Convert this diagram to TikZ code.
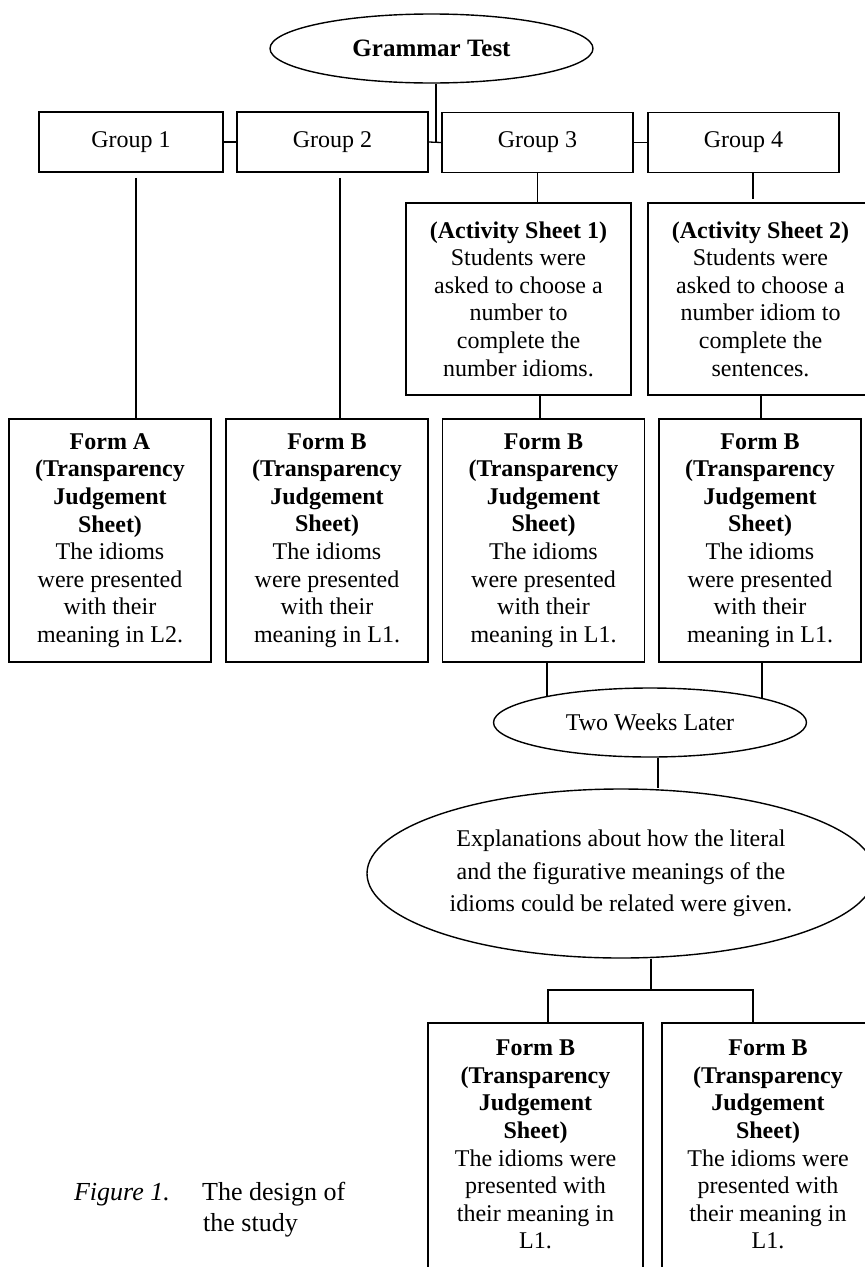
\documentclass[tikz,border=0pt]{standalone}
\usepackage{fontspec}
\setmainfont{Liberation Serif}
\usetikzlibrary{shapes.geometric}
\tikzset{
  boxline/.style={line width=1.6pt},
  conn/.style={line width=1.3pt},
  txt/.style={font=\fontsize{24}{27.6}\selectfont, align=center, inner sep=0pt},
  groupbox/.style={draw, boxline, txt, minimum height=60pt},
  sheetbox/.style={draw, boxline, txt, minimum width=225pt, minimum height=192pt},
  formbox/.style={draw, boxline, txt, minimum width=202pt, minimum height=243pt},
  openbox/.style={txt, minimum height=243pt},
  oval/.style={draw, ellipse, line width=1.4pt, inner sep=0pt, align=center},
  captxt/.style={font=\fontsize{26}{31}\selectfont, inner sep=0pt}
}
\begin{document}
\begin{tikzpicture}[x=1pt,y=-1pt]
\useasboundingbox (0,0) rectangle (865,1267);

% top
\node[oval, minimum width=323pt, minimum height=69pt, font=\fontsize{25}{30}\selectfont\bfseries] (gt) at (431.5,48.5) {Grammar Test};

\node[groupbox, minimum width=184pt] (g1) at (131,142) {Group 1};
\node[groupbox, minimum width=191pt] (g2) at (332.5,142) {Group 2};
\node[groupbox, minimum width=191pt] (g3) at (537.5,142.5) {Group 3};
\node[groupbox, minimum width=191pt] (g4) at (743.5,142.5) {Group 4};

\node[sheetbox] (a1) at (518.5,299) {\textbf{(Activity Sheet 1)}\\Students were\\asked to choose a\\number to\\complete the\\number idioms.};
\node[sheetbox] (a2) at (760.5,299) {\textbf{(Activity Sheet 2)}\\Students were\\asked to choose a\\number idiom to\\complete the\\sentences.};

\node[formbox] (fa) at (110,540.5) {\textbf{Form A}\\\textbf{(Transparency}\\\textbf{Judgement}\\\textbf{Sheet)}\\The idioms\\were presented\\with their\\meaning in L2.};
\node[formbox] (fb1) at (327,540.5) {\textbf{Form B}\\\textbf{(Transparency}\\\textbf{Judgement}\\\textbf{Sheet)}\\The idioms\\were presented\\with their\\meaning in L1.};
\node[formbox] (fb2) at (543.5,540.5) {\textbf{Form B}\\\textbf{(Transparency}\\\textbf{Judgement}\\\textbf{Sheet)}\\The idioms\\were presented\\with their\\meaning in L1.};
\node[formbox] (fb3) at (760,540.5) {\textbf{Form B}\\\textbf{(Transparency}\\\textbf{Judgement}\\\textbf{Sheet)}\\The idioms\\were presented\\with their\\meaning in L1.};

\node[oval, minimum width=313pt, minimum height=69pt, font=\fontsize{24}{28}\selectfont] (tw) at (650,722.5) {Two Weeks Later};

\node[oval, minimum width=508pt, minimum height=169pt, font=\fontsize{24}{32.5}\selectfont] (big) at (621,873.5) {Explanations about how the literal\\and the figurative meanings of the\\idioms could be related were given.};

\node[openbox, minimum width=215pt] (bb1) at (535.5,1144.5) {\textbf{Form B}\\\textbf{(Transparency}\\\textbf{Judgement}\\\textbf{Sheet)}\\The idioms were\\presented with\\their meaning in\\L1.};
\node[openbox, minimum width=212pt] (bb2) at (768,1144.5) {\textbf{Form B}\\\textbf{(Transparency}\\\textbf{Judgement}\\\textbf{Sheet)}\\The idioms were\\presented with\\their meaning in\\L1.};
\draw[boxline] ([yshift=-30pt]bb1.south west) -- (bb1.north west) -- (bb1.north east) -- ([yshift=-30pt]bb1.south east);
\draw[boxline] ([yshift=-30pt]bb2.south west) -- (bb2.north west) -- (bb2.north east) -- ([yshift=-30pt]bb2.south east);

% caption
\node[captxt, anchor=base east, font=\fontsize{26}{31}\selectfont\itshape] (fig) at (170,1200) {Figure 1.};
\node[captxt, anchor=base west] (cap1) at (202,1200) {The design of};
\node[captxt, anchor=base west] (cap2) at (203,1231) {the study};

% connectors
\coordinate (jt) at (436,142);
\draw[conn] (gt.south -| jt) -- (jt);
\draw[conn] (g1.east) -- (g2.west);
\draw[conn] (g2.east) -- (g3.west);
\draw[conn] (g3.east) -- (g4.west);

\draw[conn, shorten <=5pt] (g1.south -| 136,0) -- (fa.north -| 136,0);
\draw[conn, shorten <=5pt] (g2.south -| 340,0) -- (fb1.north -| 340,0);
\draw[conn] (g3.south) -- (g3.south |- a1.north);
\draw[conn, shorten >=3pt] (g4.south -| 753,0) -- (a2.north -| 753,0);

\draw[conn] (a1.south -| 540,0) -- (fb2.north -| 540,0);
\draw[conn] (a2.south -| 761,0) -- (fb3.north -| 761,0);

\coordinate (t1) at (547,696.5);
\coordinate (t2) at (762,698);
\draw[conn] (fb2.south -| t1) -- (t1);
\draw[conn] (fb3.south -| t2) -- (t2);
\draw[conn] (tw.south -| 658,0) -- (big.north -| 658,0);

\coordinate (jb) at (651,990);
\draw[conn] (big.south -| jb) -- (jb);
\draw[conn] (bb1.north -| 548,0) |- (jb) -| (bb2.north -| 753,0);
\end{tikzpicture}
\end{document}
